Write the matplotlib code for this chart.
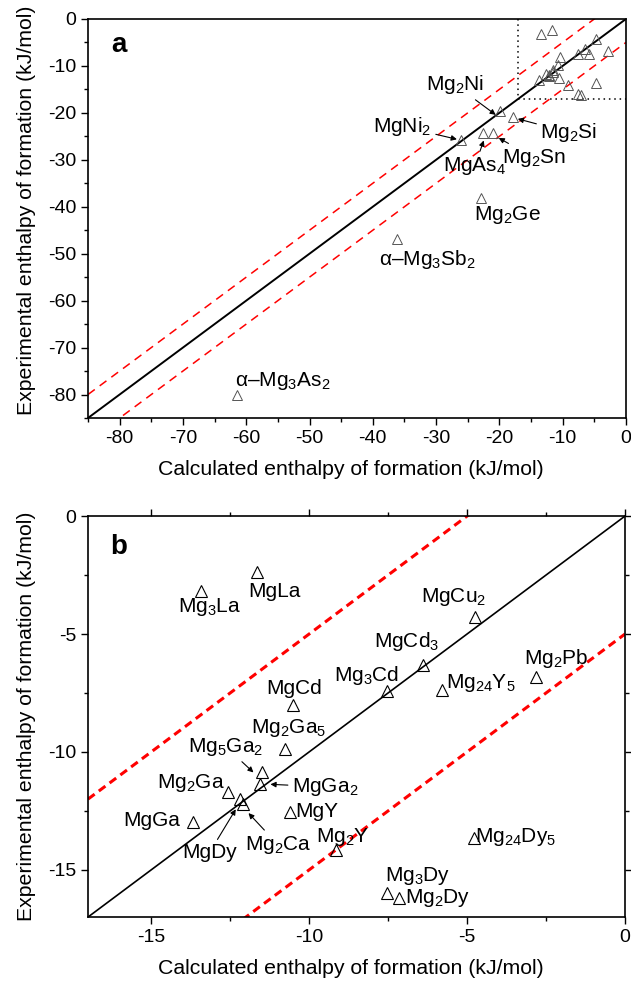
import matplotlib
matplotlib.use("Agg")
import matplotlib.pyplot as plt
from matplotlib.ticker import MultipleLocator

plt.rcParams['font.family'] = ['Liberation Sans', 'DejaVu Sans']
plt.rcParams['mathtext.fontset'] = 'custom'
plt.rcParams['mathtext.rm'] = 'Liberation Sans'
plt.rcParams['mathtext.it'] = 'Liberation Sans:italic'
plt.rcParams['mathtext.bf'] = 'Liberation Sans:bold'
plt.rcParams['mathtext.default'] = 'regular'
plt.rcParams['axes.unicode_minus'] = False

# ---- data: low-|dH| compounds (panel b, also inside box of panel a) ----
names_b = ["Mg$_3$La", "MgLa", "MgCu$_2$", "MgCd$_3$", "Mg$_3$Cd", "Mg$_{24}$Y$_5$",
           "Mg$_2$Pb", "Mg$_{24}$Dy$_5$", "MgCd", "Mg$_2$Ga$_5$", "Mg$_5$Ga$_2$",
           "MgGa$_2$", "Mg$_2$Ga", "MgDy", "Mg$_2$Ca", "MgGa", "MgY", "Mg$_2$Y",
           "Mg$_3$Dy", "Mg$_2$Dy"]
calc_b = [-13.43, -11.64, -4.75, -6.40, -7.52, -5.80, -2.82, -4.78, -10.50, -10.76,
          -11.48, -11.57, -12.57, -12.20, -12.10, -13.68, -10.62, -9.15, -7.54, -7.17]
exp_b = [-3.18, -2.36, -4.27, -6.31, -7.40, -7.37, -6.81, -13.66, -8.01, -9.87,
         -10.86, -11.37, -11.68, -11.98, -12.20, -12.95, -12.55, -14.15, -15.99, -16.20]

# ---- data: high-|dH| compounds (panel a only) ----
names_a = ["Mg$_2$Ni", "Mg$_2$Si", "MgNi$_2$", "MgAs$_4$", "Mg$_2$Sn", "Mg$_2$Ge",
           "α–Mg$_3$Sb$_2$", "α–Mg$_3$As$_2$"]
calc_a = [-19.9, -17.9, -26.0, -22.6, -21.0, -22.9, -36.1, -61.4]
exp_a = [-19.7, -20.9, -25.7, -24.3, -24.2, -38.2, -46.8, -80.0]

tol = 5.0  # +/- band (kJ/mol)

fs_tick = 14
fs_lab = 15.3
fs_pt = 15
fig = plt.figure(figsize=(6.31, 9.83), dpi=100)
axa = fig.add_axes([0.1395, 0.5748, 0.8525, 0.4059])
axb = fig.add_axes([0.1395, 0.0671, 0.8510, 0.4079])

arr = dict(arrowstyle='-|>', color='black', lw=0.8, mutation_scale=8, shrinkA=1, shrinkB=1)

# ---------------- panel a ----------------
lo, hi = -85, 0
axa.plot([lo, hi], [lo, hi], color='black', lw=1.4, zorder=2)
axa.plot([lo, hi], [lo + tol, hi + tol], color='red', lw=1.1, ls=(0, (5.5, 4)), zorder=2)
axa.plot([lo, hi], [lo - tol, hi - tol], color='red', lw=1.1, ls=(0, (5.5, 4)), zorder=2)
axa.plot([-17, -17], [0, -17], color='black', lw=1.1, ls=(0, (1, 2.5)), zorder=2)
axa.plot([-17, 0], [-17, -17], color='black', lw=1.1, ls=(0, (1, 2.5)), zorder=2)
axa.plot(calc_b + calc_a, exp_b + exp_a, ls='none', marker='^', ms=7.5,
         mfc='none', mec='#555555', mew=0.7, zorder=3)
axa.set_xlim(lo, hi)
axa.set_ylim(lo, hi)
axa.xaxis.set_major_locator(MultipleLocator(10))
axa.xaxis.set_minor_locator(MultipleLocator(5))
axa.yaxis.set_major_locator(MultipleLocator(10))
axa.yaxis.set_minor_locator(MultipleLocator(5))
axa.tick_params(which='both', direction='out', labelsize=fs_tick, top=False, right=False, width=1.0)
axa.tick_params(which='major', length=5)
axa.tick_params(which='minor', length=3)
for s in axa.spines.values():
    s.set_linewidth(1.2)
axa.set_xlabel("Calculated enthalpy of formation (kJ/mol)", fontsize=fs_lab)
axa.set_ylabel("Experimental enthalpy of formation (kJ/mol)", fontsize=fs_lab)
axa.xaxis.set_label_coords(0.488, -0.105)
axa.yaxis.set_label_coords(-0.097, 0.52)
axa.text(-81.3, -5.6, "a", fontsize=20, fontweight='bold', ha='left', va='center')

axa.annotate(names_a[0], xy=(calc_a[0] - 0.5, exp_a[0] - 0.9), xytext=(-27.0, -14.0),
             fontsize=fs_pt, ha='center', va='center', arrowprops=arr)
axa.annotate(names_a[1], xy=(calc_a[1] + 0.6, exp_a[1] - 0.3), xytext=(-9.0, -24.2),
             fontsize=fs_pt, ha='center', va='center', arrowprops=arr)
axa.annotate(names_a[2], xy=(calc_a[2] - 0.5, exp_a[2]), xytext=(-35.3, -22.9),
             fontsize=fs_pt, ha='center', va='center', arrowprops=arr)
axa.annotate(names_a[3], xy=(calc_a[3] + 0.2, exp_a[3] - 1.3), xytext=(-23.9, -31.4),
             fontsize=fs_pt, ha='center', va='center', arrowprops=arr)
axa.annotate(names_a[4], xy=(calc_a[4] + 0.7, exp_a[4] - 1.0), xytext=(-14.5, -29.6),
             fontsize=fs_pt, ha='center', va='center', arrowprops=arr)
axa.text(-18.8, -41.7, names_a[5], fontsize=fs_pt, ha='center', va='center')
axa.text(-31.4, -51.3, names_a[6], fontsize=fs_pt, ha='center', va='center')
axa.text(-54.2, -77.2, names_a[7], fontsize=fs_pt, ha='center', va='center')

# ---------------- panel b ----------------
lo, hi = -17, 0
axb.plot([lo, hi], [lo, hi], color='black', lw=1.2, zorder=2)
axb.plot([lo, hi], [lo + tol, hi + tol], color='red', lw=2.2, ls=(0, (2.7, 1.7)), zorder=2)
axb.plot([lo, hi], [lo - tol, hi - tol], color='red', lw=2.2, ls=(0, (2.7, 1.7)), zorder=2)
axb.plot(calc_b, exp_b, ls='none', marker='^', ms=8, mfc='none', mec='black',
         mew=0.8, zorder=3)
axb.set_xlim(lo, hi)
axb.set_ylim(lo, hi)
axb.xaxis.set_major_locator(MultipleLocator(5))
axb.xaxis.set_minor_locator(MultipleLocator(2.5))
axb.yaxis.set_major_locator(MultipleLocator(5))
axb.yaxis.set_minor_locator(MultipleLocator(2.5))
axb.tick_params(which='both', direction='out', labelsize=fs_tick, top=True, right=True, width=1.0)
axb.tick_params(which='major', length=5)
axb.tick_params(which='minor', length=3)
for s in axb.spines.values():
    s.set_linewidth(1.2)
axb.set_xlabel("Calculated enthalpy of formation (kJ/mol)", fontsize=fs_lab)
axb.set_ylabel("Experimental enthalpy of formation (kJ/mol)", fontsize=fs_lab)
axb.xaxis.set_label_coords(0.49, -0.105)
axb.yaxis.set_label_coords(-0.097, 0.5)
axb.text(-16.3, -1.3, "b", fontsize=20, fontweight='bold', ha='left', va='center')

# label positions (text centre, data units)
lab_pos = {
    0: (-13.15, -3.84),  # Mg3La
    1: (-11.1, -3.18),   # MgLa
    2: (-5.44, -3.42),   # MgCu2
    3: (-6.9, -5.33),    # MgCd3
    4: (-8.17, -6.74),   # Mg3Cd
    5: (-4.56, -7.08),   # Mg24Y5
    6: (-2.19, -6.02),   # Mg2Pb
    7: (-3.46, -13.59),  # Mg24Dy5
    8: (-10.47, -7.29),  # MgCd
    9: (-10.66, -8.98),  # Mg2Ga5
    12: (-13.73, -11.31),# Mg2Ga
    15: (-14.97, -12.92),# MgGa
    16: (-9.76, -12.53), # MgY
    17: (-8.94, -13.59), # Mg2Y
    18: (-6.55, -15.28), # Mg3Dy
    19: (-5.92, -16.19), # Mg2Dy
}
for i, (tx, ty) in lab_pos.items():
    axb.text(tx, ty, names_b[i], fontsize=fs_pt, ha='center', va='center')
# arrowed labels
axb.annotate(names_b[10], xy=(calc_b[10] - 0.25, exp_b[10] - 0.05), xytext=(-12.63, -9.79),
             fontsize=fs_pt, ha='center', va='center', arrowprops=arr)
axb.annotate(names_b[11], xy=(calc_b[11] + 0.3, exp_b[11]), xytext=(-9.49, -11.48),
             fontsize=fs_pt, ha='center', va='center', arrowprops=arr)
axb.annotate(names_b[13], xy=(calc_b[13] - 0.1, exp_b[13] - 0.4), xytext=(-13.16, -14.28),
             fontsize=fs_pt, ha='center', va='center', arrowprops=arr)
axb.annotate(names_b[14], xy=(calc_b[14] + 0.15, exp_b[14] - 0.35), xytext=(-10.98, -13.94),
             fontsize=fs_pt, ha='center', va='center', arrowprops=arr)

fig.savefig("out.png", dpi=100)
